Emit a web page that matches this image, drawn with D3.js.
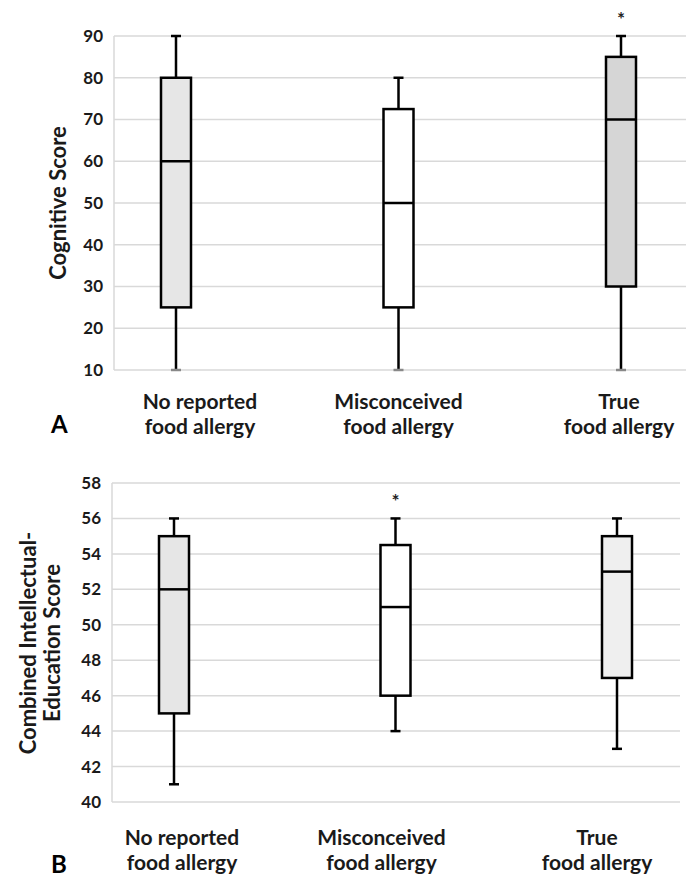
<!DOCTYPE html>
<html><head><meta charset="utf-8">
<script src="https://cdn.jsdelivr.net/npm/d3@7"></script>
<style>body{margin:0;background:#fff}svg{display:block}text{font-family:Lato,"Open Sans",sans-serif;font-weight:bold}</style>
</head><body>
<script>
const categories = ["No reported\nfood allergy", "Misconceived\nfood allergy", "True\nfood allergy"];
// Panel A: Cognitive Score
const aWhiskerLow = [10, 10, 10];
const aQ1 = [25, 25, 30];
const aMedian = [60, 50, 70];
const aQ3 = [80, 72.5, 85];
const aWhiskerHigh = [90, 80, 90];
const aFill = ["#e6e6e6", "#ffffff", "#d6d6d6"];
const aStar = [false, false, true];
const aTicks = [10, 20, 30, 40, 50, 60, 70, 80, 90];
// Panel B: Combined Intellectual-Education Score
const bWhiskerLow = [41, 44, 43];
const bQ1 = [45, 46, 47];
const bMedian = [52, 51, 53];
const bQ3 = [55, 54.5, 55];
const bWhiskerHigh = [56, 56, 56];
const bFill = ["#e6e6e6", "#ffffff", "#efefef"];
const bStar = [false, true, false];
const bTicks = [40, 42, 44, 46, 48, 50, 52, 54, 56, 58];

const svg = d3.select("body").append("svg").attr("width", 694).attr("height", 879);

function panel(cfg) {
  const g = svg.append("g");
  const y = d3.scaleLinear().domain(cfg.domain).range([cfg.bottom, cfg.top]);
  const x = d3.scalePoint().domain(categories).range(cfg.xRange);
  g.append("g").selectAll("line").data(cfg.ticks).join("line")
    .attr("x1", cfg.left).attr("x2", cfg.right)
    .attr("y1", d => y(d)).attr("y2", d => y(d))
    .attr("stroke", "#d9d9d9").attr("stroke-width", 1.5);
  g.append("line").attr("x1", cfg.left).attr("x2", cfg.left)
    .attr("y1", y(cfg.domain[0])).attr("y2", y(cfg.domain[1]))
    .attr("stroke", "#d9d9d9").attr("stroke-width", 1.5);
  const ax = g.append("g").attr("transform", `translate(${cfg.left},0)`)
    .call(d3.axisLeft(y).tickValues(cfg.ticks).tickSize(0).tickPadding(11));
  ax.select(".domain").remove();
  ax.selectAll("text").attr("font-size", 17).attr("font-weight", "bold")
    .attr("font-family", "Lato, sans-serif").attr("fill", "#1a1a1a");
  const tt = g.append("text").attr("transform", `translate(${cfg.titleX},${cfg.titleY}) rotate(-90)`)
    .attr("text-anchor", "middle").attr("font-size", 22).attr("fill", "#1a1a1a");
  cfg.title.forEach((t, i) => tt.append("tspan").attr("x", 0).attr("dy", i === 0 ? 0 : 24).text(t));
  const bw = 30;
  const data = categories.map((c, i) => ({c, i}));
  const bx = g.append("g").selectAll("g").data(data).join("g");
  bx.append("line").attr("x1", d => x(d.c)).attr("x2", d => x(d.c))
    .attr("y1", d => y(cfg.lo[d.i])).attr("y2", d => y(cfg.hi[d.i]))
    .attr("stroke", "#000").attr("stroke-width", 2.5);
  bx.append("line").attr("x1", d => x(d.c) - 5).attr("x2", d => x(d.c) + 5)
    .attr("y1", d => y(cfg.hi[d.i])).attr("y2", d => y(cfg.hi[d.i]))
    .attr("stroke", "#000").attr("stroke-width", 2.5);
  bx.append("line").attr("x1", d => x(d.c) - 5).attr("x2", d => x(d.c) + 5)
    .attr("y1", d => y(cfg.lo[d.i])).attr("y2", d => y(cfg.lo[d.i]))
    .attr("stroke", d => cfg.lo[d.i] === cfg.domain[0] ? "#888" : "#000").attr("stroke-width", 2.5);
  bx.append("rect").attr("x", d => x(d.c) - bw / 2).attr("width", bw)
    .attr("y", d => y(cfg.q3[d.i])).attr("height", d => y(cfg.q1[d.i]) - y(cfg.q3[d.i]))
    .attr("fill", d => cfg.fill[d.i]).attr("stroke", "#000").attr("stroke-width", 2.5);
  bx.append("line").attr("x1", d => x(d.c) - bw / 2).attr("x2", d => x(d.c) + bw / 2)
    .attr("y1", d => y(cfg.med[d.i])).attr("y2", d => y(cfg.med[d.i]))
    .attr("stroke", "#000").attr("stroke-width", 2.5);
  bx.filter(d => cfg.star[d.i]).append("text")
    .attr("x", d => x(d.c)).attr("y", d => y(cfg.hi[d.i]) - cfg.starGap)
    .attr("text-anchor", "middle").attr("font-size", 19).attr("font-weight", "normal")
    .attr("font-family", "Liberation Sans, sans-serif").attr("fill", "#222").text("*");
  const xl = g.append("g").selectAll("text").data(data).join("text")
    .attr("text-anchor", "middle").attr("font-size", 21).attr("fill", "#1a1a1a")
    .attr("y", cfg.labelY);
  xl.each(function(d) {
    const lines = d.c.split("\n");
    lines.forEach((t, k) => d3.select(this).append("tspan")
      .attr("x", x(d.c) + cfg.labelDx[d.i]).attr("dy", k === 0 ? 0 : 25).text(t));
  });
  g.append("text").attr("x", cfg.letterX).attr("y", cfg.letterY).attr("font-size", 24)
    .attr("fill", "#000").text(cfg.letter);
}

panel({domain: [10, 90], ticks: aTicks, top: 36, bottom: 370, left: 114, right: 686,
  xRange: [176, 621], lo: aWhiskerLow, q1: aQ1, med: aMedian, q3: aQ3, hi: aWhiskerHigh,
  fill: aFill, star: aStar, starGap: 10, title: ["Cognitive Score"], titleX: 66, titleY: 203,
  labelY: 409, labelDx: [24, 0, -2], letter: "A", letterX: 51, letterY: 433});

panel({domain: [40, 58], ticks: bTicks, top: 483, bottom: 802, left: 112, right: 680,
  xRange: [174, 617], lo: bWhiskerLow, q1: bQ1, med: bMedian, q3: bQ3, hi: bWhiskerHigh,
  fill: bFill, star: bStar, starGap: 10, title: ["Combined Intellectual-", "Education Score"],
  titleX: 36, titleY: 643, labelY: 845, labelDx: [8, -14, -20], letter: "B", letterX: 51, letterY: 873});
</script>
</body></html>
